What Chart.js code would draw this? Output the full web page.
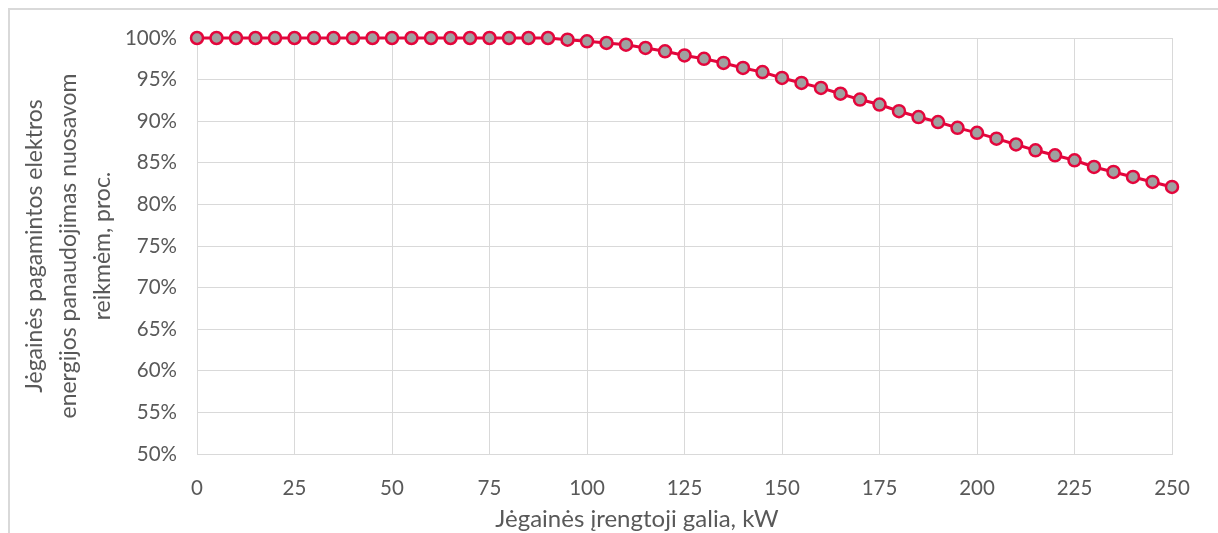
<!DOCTYPE html>
<html>
<head>
<meta charset="utf-8">
<script src="https://cdn.jsdelivr.net/npm/chart.js@4.4.1/dist/chart.umd.min.js"></script>
<style>
  html, body { margin: 0; padding: 0; background: #ffffff; }
  #c { display: block; }
</style>
</head>
<body>
<canvas id="c" width="1218" height="533"></canvas>
<script>
// ---- data ----
const powerKW = [0, 5, 10, 15, 20, 25, 30, 35, 40, 45, 50, 55, 60, 65, 70, 75, 80, 85, 90,
  95, 100, 105, 110, 115, 120, 125, 130, 135, 140, 145, 150, 155, 160, 165, 170, 175,
  180, 185, 190, 195, 200, 205, 210, 215, 220, 225, 230, 235, 240, 245, 250];
const selfUsePct = [100, 100, 100, 100, 100, 100, 100, 100, 100, 100, 100, 100, 100, 100, 100, 100, 100, 100, 100,
  99.8, 99.6, 99.4, 99.2, 98.8, 98.4, 97.9, 97.5, 97.0, 96.4, 95.9, 95.2, 94.6, 94.0, 93.3, 92.6, 92.0,
  91.2, 90.5, 89.9, 89.2, 88.6, 87.9, 87.2, 86.5, 85.9, 85.3, 84.5, 83.9, 83.3, 82.7, 82.1];
const xTitle = 'Jėgainės įrengtoji galia, kW';
const yTitle = ['Jėgainės pagamintos elektros', 'energijos panaudojimas nuosavom', 'reikmėm, proc.'];

const points = powerKW.map((x, i) => ({ x: x, y: selfUsePct[i] }));

const FONT = 'Lato, "Open Sans", sans-serif';
const TXT = '#595959';
const GRID = '#d9d9d9';

const framePlugin = {
  id: 'frame',
  beforeDraw(chart) {
    const ctx = chart.ctx;
    ctx.save();
    ctx.fillStyle = '#ffffff';
    ctx.fillRect(0, 0, chart.width, chart.height);
    ctx.strokeStyle = '#d9d9d9';
    ctx.lineWidth = 2;
    ctx.beginPath();
    ctx.moveTo(9, chart.height);
    ctx.lineTo(9, 9);
    ctx.lineTo(chart.width, 9);
    ctx.stroke();
    ctx.restore();
  },
  afterDraw(chart) {
    // x-axis title, placed as in the reference (offset left of the plot centre)
    const ctx = chart.ctx;
    ctx.save();
    ctx.fillStyle = TXT;
    ctx.font = '24px ' + FONT;
    ctx.textAlign = 'center';
    ctx.textBaseline = 'middle';
    ctx.fillText(xTitle, 637, 519);
    ctx.restore();
  }
};

new Chart(document.getElementById('c'), {
  type: 'line',
  data: {
    datasets: [{
      data: points,
      borderColor: '#E3063C',
      borderWidth: 3,
      backgroundColor: '#A0A0A0',
      pointBackgroundColor: '#A0A0A0',
      pointBorderColor: '#E3063C',
      pointBorderWidth: 2.5,
      pointRadius: 6,
      pointHoverRadius: 6,
      tension: 0,
      clip: false
    }]
  },
  options: {
    responsive: false,
    animation: false,
    devicePixelRatio: 1,
    layout: { autoPadding: false, padding: { top: 38, right: 46, left: 0, bottom: 0 } },
    plugins: { legend: { display: false }, tooltip: { enabled: false } },
    scales: {
      x: {
        type: 'linear',
        min: 0, max: 250,
        afterFit(scale) { scale.height = 79; },
        ticks: { stepSize: 25, color: TXT, font: { family: FONT, size: 20.5 }, padding: 22, maxRotation: 0 },
        grid: { color: GRID, lineWidth: 1, drawTicks: false },
        border: { color: GRID, width: 1 },
        title: { display: false, text: xTitle }
      },
      y: {
        min: 50, max: 100,
        afterFit(scale) { scale.width = 197; },
        ticks: { stepSize: 5, color: TXT, font: { family: FONT, size: 20.5 }, padding: 20, callback: v => v + '%' },
        grid: { color: GRID, lineWidth: 1, drawTicks: false },
        border: { color: GRID, width: 1 },
        title: { display: true, text: yTitle, color: TXT, font: { family: FONT, size: 23, lineHeight: 1.478 }, padding: { top: 18, bottom: 0 } }
      }
    }
  },
  plugins: [framePlugin]
});
</script>
</body>
</html>
